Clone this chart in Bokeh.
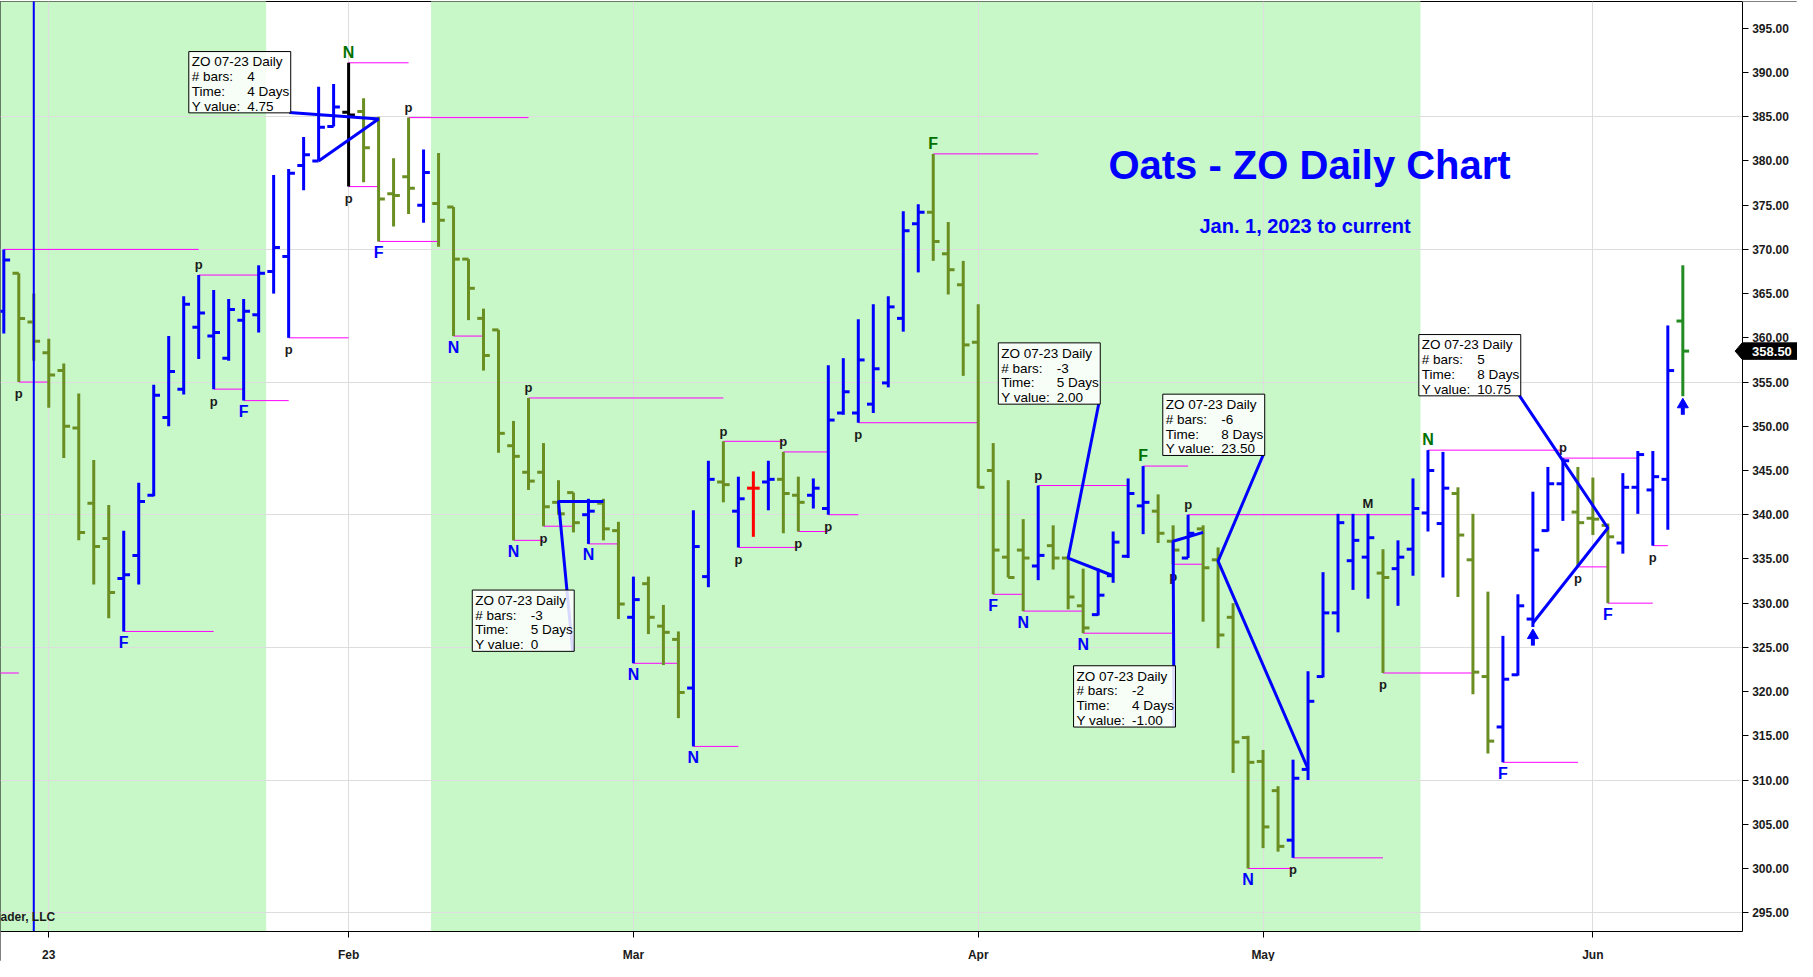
from bokeh.plotting import figure
from bokeh.models import FixedTicker, NumeralTickFormatter, ColumnDataSource, Range1d
from bokeh.core.properties import value
from bokeh.embed import file_html
from bokeh.resources import INLINE

# ---------------- data ----------------
first_bar = -3  # bar index of the left-most bar (0 = Jan 3, 2023)
opens = [363.0, 367.3, 361.8, 358.3, 356.3, 349.8, 341.3, 337.3, 332.8, 335.4,
         342.2, 351.0, 354.2, 361.2, 360.2, 357.7, 362.0, 362.6, 367.5, 369.2,
         379.5, 380.0, 383.9, 385.5, 385.6, 384.75, 376.3, 378.2, 375.0, 375.2,
         374.8, 368.9, 362.2, 360.9, 347.8, 344.8, 344.8, 341.4, 342.5, 340.0,
         341.3, 338.2, 328.4, 332.2, 327.4, 325.9, 320.4, 333.0, 343.7, 340.4,
         343.0, 343.7, 344.0, 342.2, 342.2, 340.7, 351.5, 351.5, 352.5, 354.9,
         362.2, 372.9, 374.2, 369.5, 366.0, 359.5, 345.0, 335.2, 336.0, 334.2,
         336.5, 335.1, 329.7, 328.7, 333.1, 335.3, 341.0, 340.4, 337.0, 335.1,
         338.4, 334.9, 328.4, 314.8, 312.1, 308.8, 303.2, 311.2, 321.7, 328.9,
         334.8, 335.2, 333.4, 333.9, 336.1, 340.2, 339.0, 342.4, 334.9, 321.7,
         316.0, 321.9, 328.2, 338.2, 343.5, 340.3, 339.6, 338.8, 336.8, 343.1,
         342.8, 344.0, 361.9]
highs = [370.0, 367.3, 365.0, 359.9, 357.1, 353.7, 346.2, 341.1, 338.2, 343.6,
         354.7, 360.2, 364.7, 367.1, 365.4, 364.4, 364.4, 368.2, 378.4, 379.1,
         382.7, 388.4, 388.7, 391.1, 387.1, 385.0, 380.3, 384.9, 381.3, 380.9,
         374.8, 368.9, 363.3, 360.9, 350.6, 353.2, 348.1, 343.9, 342.5, 341.8,
         341.8, 339.2, 333.0, 333.0, 329.8, 326.8, 340.5, 346.1, 348.3, 344.3,
         344.9, 346.1, 347.1, 344.3, 344.1, 356.9, 357.7, 362.1, 363.8, 364.7,
         374.3, 375.1, 380.8, 373.1, 368.7, 363.8, 348.1, 343.9, 339.5, 343.3,
         338.8, 335.1, 333.9, 333.9, 338.1, 344.1, 345.5, 342.3, 338.8, 340.0,
         338.8, 336.3, 330.0, 315.0, 313.4, 309.3, 312.3, 322.3, 333.5, 340.1,
         340.1, 340.1, 336.1, 337.1, 344.1, 347.3, 347.1, 343.1, 340.1, 331.3,
         326.3, 331.0, 342.6, 345.4, 346.4, 345.4, 344.2, 339.0, 344.7, 347.2,
         347.2, 361.4, 368.2]
lows = [360.5, 355.0, 357.4, 352.1, 346.4, 337.1, 332.1, 328.3, 326.8, 332.1,
        342.1, 350.0, 353.6, 357.6, 354.2, 357.4, 352.9, 360.6, 365.0, 360.0,
        376.7, 380.0, 383.9, 377.1, 377.6, 370.9, 372.6, 374.0, 373.0, 370.3,
        360.2, 362.0, 356.3, 347.0, 337.1, 342.8, 338.7, 340.0, 338.0, 336.7,
        337.1, 328.2, 323.2, 326.5, 323.0, 317.0, 313.8, 331.8, 341.4, 336.3,
        337.5, 340.5, 337.9, 338.1, 340.7, 340.0, 351.3, 350.4, 351.5, 354.4,
        360.7, 367.4, 368.7, 364.9, 355.7, 343.0, 331.0, 332.9, 329.1, 332.6,
        333.8, 329.3, 326.6, 328.6, 332.3, 335.1, 337.8, 336.8, 334.4, 335.1,
        327.9, 324.9, 310.8, 300.0, 302.3, 301.9, 301.2, 310.0, 321.6, 326.7,
        331.5, 330.5, 322.1, 329.7, 333.1, 338.1, 332.9, 330.7, 319.7, 313.0,
        312.0, 321.8, 327.3, 338.1, 339.3, 334.1, 337.7, 330.0, 335.6, 340.1,
        336.5, 338.3, 353.4]
closes = [368.8, 362.2, 359.6, 355.8, 350.0, 338.0, 336.4, 331.2, 333.2, 341.5,
          353.5, 356.2, 363.8, 362.8, 360.6, 363.2, 363.0, 367.3, 370.2, 378.6,
          380.7, 383.8, 386.1, 385.2, 381.5, 375.7, 376.1, 376.9, 378.7, 373.3,
          368.9, 365.6, 358.0, 349.2, 346.6, 343.8, 340.9, 340.1, 339.1, 340.4,
          338.4, 329.9, 330.4, 328.4, 326.7, 319.9, 336.4, 344.0, 343.4, 341.8,
          343.0, 344.0, 342.4, 341.4, 343.0, 350.7, 353.9, 357.5, 356.5, 363.5,
          372.1, 374.2, 370.9, 367.7, 359.2, 343.1, 336.0, 332.9, 335.1, 335.4,
          335.1, 330.7, 327.2, 330.9, 336.9, 342.4, 341.4, 337.9, 336.0, 337.9,
          334.0, 326.4, 314.3, 312.0, 304.7, 302.5, 310.2, 318.9, 328.9, 339.1,
          337.1, 337.4, 332.9, 335.2, 340.7, 345.0, 343.0, 337.7, 322.2, 314.4,
          321.4, 329.7, 336.0, 343.5, 346.1, 339.1, 339.5, 337.5, 343.1, 346.8,
          344.3, 356.3, 358.5]
last_price = 358.50

month_ticks = [0, 20, 39, 62, 81, 103]
month_labels = ["23", "Feb", "Mar", "Apr", "May", "Jun"]
price_ticks = [295, 300, 305, 310, 315, 320, 325, 330, 335, 340, 345,
               350, 355, 360, 365, 370, 375, 380, 385, 390, 395]
grid_levels = [295, 310, 325, 340, 355, 370, 385]

shade_start = [-3.5, 25.5]
shade_end = [14.5, 91.5]
marker_bar = -1  # vertical blue line

# pivot lines: from bar, to bar, at High or Low of the "from" bar
pivot_from = [-3, -2, 5, 10, 11, 13, 16, 20, 20, 22, 24, 27, 31, 32, 33, 36, 39, 43, 45, 46,
              49, 50, 52, 54, 59, 63, 65, 66, 69, 73, 75, 76, 80, 83, 89, 92, 97, 101, 102, 104, 107]
pivot_to = [10, 0, 11, 14, 13, 16, 20, 24, 22, 26, 32, 29, 33, 45, 35, 38, 42, 46, 49, 50,
            52, 52, 54, 62, 66, 65, 69, 72, 75, 76, 77, 91, 83, 89, 95, 101, 102, 106, 104, 107, 108]
pivot_side = ["H", "L", "L", "H", "L", "L", "L", "H", "L", "L", "H", "L", "L", "H", "L", "L", "L", "L", "H", "L",
              "H", "L", "L", "L", "H", "L", "L", "H", "L", "H", "L", "H", "L", "L", "L", "H", "L", "H", "L", "L", "L"]
offscreen_pivot_level = 322.1
offscreen_pivot_to = -2

# bar letters
lab_bar = [-2, 5, 10, 11, 13, 16, 20, 20, 22, 24, 27, 31, 32, 33, 36, 39, 43, 45, 46, 49, 50,
           52, 54, 59, 63, 65, 66, 69, 73, 75, 76, 80, 83, 88, 89, 92, 97, 101, 102, 104, 107]
lab_text = ["p", "F", "p", "p", "F", "p", "N", "p", "F", "p", "N", "N", "p", "p", "N", "N", "N", "p", "p", "p", "p",
            "p", "p", "F", "F", "N", "p", "N", "F", "p", "p", "N", "p", "M", "p", "N", "F", "p", "p", "F", "p"]
lab_side = ["b", "b", "a", "b", "b", "b", "a", "b", "b", "a", "b", "b", "a", "b", "b", "b", "b", "a", "b", "a", "b",
            "b", "b", "a", "b", "b", "a", "b", "a", "b", "a", "b", "b", "a", "b", "a", "b", "a", "b", "b", "b"]
arrow_bars = [99, 109]

# measurement tool
meas_from_bar = [18, 37, 71, 84, 77, 99]
meas_from_val = [380.0, 341.5, 333.1, 311.25, 338.0, 327.75]
meas_to_bar = [22, 34, 68, 78, 75, 104]
meas_to_val = [384.75, 341.5, 335.1, 334.75, 337.0, 338.5]
meas_bars = ["4", "-3", "-3", "-6", "-2", "5"]
meas_time = ["4 Days", "5 Days", "5 Days", "8 Days", "4 Days", "8 Days"]
meas_yval = ["4.75", "0", "2.00", "23.50", "-1.00", "10.75"]
meas_title = "ZO 07-23 Daily"

title_text = "Oats - ZO Daily Chart"
subtitle_text = "Jan. 1, 2023 to current"
credit_text = "ader, LLC"

# ---------------- layout / style constants ----------------
box_left = [9.34, 28.25, 63.34, 74.31, 68.36, 91.39]
box_top = [392.37, 331.48, 359.43, 353.63, 322.92, 360.37]
BOX_W, BOX_H = 6.8, 6.93
UP, DOWN, FLAT = "#0000ff", "#6b8e23", "#ff0000"
special_colors = {20: "#000000", 109: "#228b22"}
FONT = value("Liberation Sans")

X0, X1 = -3.22, 112.96      # price-chart area (left/right)
XE = 116.65                 # right edge incl. price scale
Y0, Y1 = 292.92, 398.03     # price-chart area (bottom/top)
YE = 289.48                 # bottom edge incl. time scale

p = figure(frame_width=1797, frame_height=960, x_range=Range1d(X0, XE), y_range=Range1d(YE, Y1),
           y_axis_location="right", output_backend="svg", toolbar_location=None,
           min_border_left=0, min_border_top=1, min_border_right=0, min_border_bottom=0,
           outline_line_color="black", background_fill_color="white", border_fill_color="white")

# shaded periods (below grid)
p.quad(left=shade_start, right=shade_end, bottom=Y0, top=Y1 + 10,
       fill_color="#c8f7c8", line_color=None, level="image")

# axes and grid (axes pinned to the chart-area edges)
p.xaxis.ticker = FixedTicker(ticks=month_ticks)
p.xaxis.major_label_overrides = {t: s for t, s in zip(month_ticks, month_labels)}
p.xaxis.bounds = (X0, X1)
p.xaxis.fixed_location = Y0
p.yaxis.ticker = FixedTicker(ticks=price_ticks)
p.yaxis.formatter = NumeralTickFormatter(format="0.00")
p.yaxis.bounds = (Y0, Y1 + 10)
p.yaxis.fixed_location = X1
for ax in (p.xaxis[0], p.yaxis[0]):
    ax.major_label_text_font = "Liberation Sans"
    ax.major_label_text_font_size = "12px"
    ax.major_label_text_font_style = "bold"
    ax.major_label_text_color = "#1a1a1a"
    ax.axis_line_color = "black"
    ax.major_tick_line_color = "black"
    ax.major_tick_out = 6
    ax.major_tick_in = 0
    ax.minor_tick_line_color = None
p.yaxis.major_label_standoff = 4
p.xaxis.major_label_standoff = 11
p.xgrid.ticker = FixedTicker(ticks=month_ticks)
p.ygrid.ticker = FixedTicker(ticks=grid_levels)
p.xgrid.grid_line_color = "#dddddd"
p.ygrid.grid_line_color = "#dddddd"

# white scale areas (cover grid lines outside the chart area)
p.quad(left=[X1, X0 - 1], right=[XE + 1, XE + 1], bottom=[YE - 1, YE - 1], top=[Y1 + 10, Y0],
       fill_color="white", line_color=None)

# pivot lines
bar_x = list(range(first_bar, first_bar + len(opens)))
def hi(b):
    return highs[b - first_bar]
def lo(b):
    return lows[b - first_bar]
px0 = [X0 - 1] + pivot_from
px1 = [offscreen_pivot_to] + pivot_to
py = [offscreen_pivot_level] + [hi(b) if s == "H" else lo(b) for b, s in zip(pivot_from, pivot_side)]
p.segment(x0=px0, y0=py, x1=px1, y1=py, line_color="#ff00ff", line_width=1)

# OHLC bars
colors = []
for b, o, c in zip(bar_x, opens, closes):
    if b in special_colors:
        colors.append(special_colors[b])
    elif c > o:
        colors.append(UP)
    elif c < o:
        colors.append(DOWN)
    else:
        colors.append(FLAT)
TICK = 0.42
src = ColumnDataSource(dict(x=bar_x, o=opens, h=highs, l=lows, c=closes, color=colors,
                            xl=[b - TICK for b in bar_x], xr=[b + TICK for b in bar_x]))
p.segment(x0="x", y0="l", x1="x", y1="h", source=src, line_color="color", line_width=3, line_cap="butt")
p.segment(x0="xl", y0="o", x1="x", y1="o", source=src, line_color="color", line_width=3, line_cap="butt")
p.segment(x0="x", y0="c", x1="xr", y1="c", source=src, line_color="color", line_width=3, line_cap="butt")

# vertical marker line
p.segment(x0=[marker_bar], y0=[Y0], x1=[marker_bar], y1=[Y1 + 10], line_color="#0000ff", line_width=2)

# bar letters
lx, ly, lt, lc, ls = [], [], [], [], []
for b, t, s in zip(lab_bar, lab_text, lab_side):
    if s == "a":
        y = hi(b) + 1.15
    else:
        y = lo(b) - (1.35 if t == "p" else 1.25)
    if t == "p" or t == "M":
        col = "#1a1a1a"
    else:
        col = "#007000" if s == "a" else "#0000ff"
    lx.append(b); ly.append(y); lt.append(t); lc.append(col)
    ls.append("13px" if t in ("p", "M") else "16px")
lab_src = ColumnDataSource(dict(x=lx, y=ly, text=lt, color=lc, size=ls))
p.text(x="x", y="y", text="text", source=lab_src, text_color="color", text_font_size="size",
       text_font=FONT, text_font_style="bold", text_align="center", text_baseline="middle")

# up arrows
ab = arrow_bars
p.segment(x0=ab, y0=[lo(b) - 1.3 for b in ab], x1=ab, y1=[lo(b) - 2.1 for b in ab],
          line_color="#0000ff", line_width=4, line_cap="butt")
p.scatter(x=ab, y=[lo(b) - 0.95 for b in ab], marker="triangle", size=11,
          fill_color="#0000ff", line_color="#0000ff")

# measurement lines + leaders
mxs, mys = [], []
for i in range(len(meas_from_bar)):
    ax_r = box_left[i] + BOX_W - 0.1
    ay_b = box_top[i] - BOX_H + 0.05
    mxs.append([meas_from_bar[i], meas_to_bar[i], ax_r])
    mys.append([meas_from_val[i], meas_to_val[i], ay_b])
p.multi_line(xs=mxs, ys=mys, line_color="#0000ff", line_width=3)

# measurement boxes
p.quad(left=box_left, right=[l + BOX_W for l in box_left], top=box_top,
       bottom=[t - BOX_H for t in box_top], fill_color="white", fill_alpha=0.85,
       line_color="black", line_width=1)
tx, ty, tt = [], [], []
for i in range(len(box_left)):
    L, T = box_left[i], box_top[i]
    rows = [(meas_title, None), ("# bars:", meas_bars[i]), ("Time:", meas_time[i]), ("Y value:", meas_yval[i])]
    for k, (a, v) in enumerate(rows):
        y = T - 1.18 - k * 1.667
        tx.append(L + 0.2); ty.append(y); tt.append(a)
        if v is not None:
            tx.append(L + 3.9); ty.append(y); tt.append(v)
p.text(x=tx, y=ty, text=tt, text_font=FONT, text_font_size="13.5px", text_color="black",
       text_align="left", text_baseline="middle")

# title & subtitle & credit
p.text(x=[84.1], y=[379.5], text=[title_text], text_font=FONT, text_font_size="40px",
       text_font_style="bold", text_color="#0000ff", text_align="center", text_baseline="middle")
p.text(x=[83.8], y=[372.6], text=[subtitle_text], text_font=FONT, text_font_size="20px",
       text_font_style="bold", text_color="#0000ff", text_align="center", text_baseline="middle")
p.text(x=[X0], y=[294.5], text=[credit_text], text_font=FONT, text_font_size="12px",
       text_font_style="bold", text_color="#1a1a1a", text_align="left", text_baseline="middle")

# last price tag on the price scale
TAG_H = 0.93
p.patch(x=[X1 - 0.47, X1, XE + 1, XE + 1, X1],
        y=[last_price, last_price + TAG_H, last_price + TAG_H, last_price - TAG_H, last_price - TAG_H],
        fill_color="black", line_color="black")
p.text(x=[X1 + 0.66], y=[last_price], text=[f"{last_price:.2f}"], text_font=FONT,
       text_font_size="13px", text_font_style="bold", text_color="white",
       text_align="left", text_baseline="middle")

open("out.html", "w").write(file_html(p, INLINE))
